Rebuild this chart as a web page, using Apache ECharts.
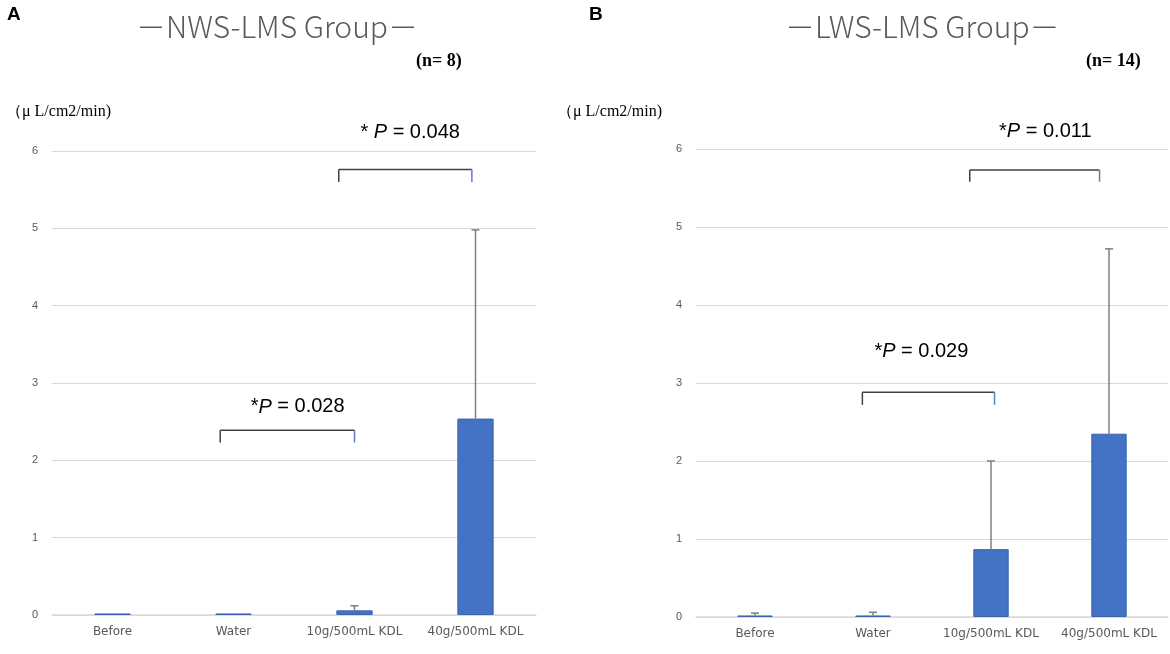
<!DOCTYPE html>
<html>
<head>
<meta charset="utf-8">
<script src="https://cdn.jsdelivr.net/npm/echarts@6/dist/echarts.min.js"></script>
<style>
  html, body { margin: 0; padding: 0; background: #ffffff; }
  #main { width: 1170px; height: 654px; }
</style>
</head>
<body>
<div id="main"></div>
<script>
'use strict';

// 数据
var categories = ['Before', 'Water', '10g/500mL KDL', '40g/500mL KDL'];
var meanA = [0.02, 0.02, 0.06, 2.54];
var sdA = [0, 0, 0.06, 2.44];
var meanB = [0.02, 0.02, 0.87, 2.35];
var sdB = [0.03, 0.04, 1.13, 2.37];
var yTicks = [0, 1, 2, 3, 4, 5, 6];

// 显著性标注: [起点类别, 终点类别, 横线高度, 竖线下端, 文字中心类别, 文字高度, 星号, p值]
var bracketsA = [
  [0.89, 2.0, 2.39, 2.23, 1.53, 2.69, '*', '= 0.028'],
  [1.87, 2.97, 5.76, 5.60, 2.46, 6.24, '* ', '= 0.048']
];
var bracketsB = [
  [0.91, 2.03, 2.88, 2.72, 1.41, 3.40, '*', '= 0.029'],
  [1.82, 2.92, 5.73, 5.58, 2.46, 6.23, '*', '= 0.011']
];

var BAR_COLOR = '#4472c4';
var GRID_COLOR = '#d9d9d9';
var TEXT_COLOR = '#595959';

var chart = echarts.init(document.getElementById('main'), null, { renderer: 'canvas' });

// 类别轴上的小数位置 -> 像素
function catX(api, pos, y) {
  var base = Math.floor(pos);
  var band = api.size([1, 0])[0];
  return api.coord([base, y])[0] + (pos - base) * band;
}

function errorRender(means, sds) {
  return function (params, api) {
    var i = api.value(0);
    var top = means[i] + sds[i];
    if (sds[i] <= 0) return;
    var p0 = api.coord([i, means[i]]);
    var p1 = api.coord([i, top]);
    var style = { stroke: '#7f7f7f', lineWidth: 1.5 };
    return {
      type: 'group',
      children: [
        { type: 'line', shape: { x1: p0[0], y1: p0[1], x2: p1[0], y2: p1[1] }, style: style },
        { type: 'line', shape: { x1: p1[0] - 4, y1: p1[1], x2: p1[0] + 4, y2: p1[1] }, style: style }
      ]
    };
  };
}

function bracketRender(list) {
  return function (params, api) {
    var b = list[params.dataIndex];
    var xl = catX(api, b[0], b[2]);
    var xr = catX(api, b[1], b[2]);
    var yTop = api.coord([0, b[2]])[1];
    var yEnd = api.coord([0, b[3]])[1];
    var xt = catX(api, b[4], b[5]);
    var yt = api.coord([0, b[5]])[1];
    return {
      type: 'group',
      children: [
        { type: 'line', shape: { x1: xl, y1: yTop, x2: xr, y2: yTop }, style: { stroke: '#404040', lineWidth: 1.5 } },
        { type: 'line', shape: { x1: xl, y1: yTop, x2: xl, y2: yEnd }, style: { stroke: '#404040', lineWidth: 1.5 } },
        { type: 'line', shape: { x1: xr, y1: yTop, x2: xr, y2: yEnd }, style: { stroke: '#5b7fc4', lineWidth: 1.5 } },
        {
          type: 'text',
          x: xt, y: yt,
          style: {
            text: '{n|' + b[6] + '}{i|P}{n| ' + b[7] + '}',
            align: 'center',
            verticalAlign: 'middle',
            rich: {
              n: { fontSize: 20, color: '#262626', fontFamily: 'Liberation Sans' },
              i: { fontSize: 20, color: '#262626', fontFamily: 'Liberation Sans', fontStyle: 'italic' }
            }
          }
        }
      ]
    };
  };
}

function xAxisCfg(gridIndex) {
  return {
    type: 'category',
    gridIndex: gridIndex,
    data: categories,
    axisLine: { lineStyle: { color: GRID_COLOR, width: 1.5 } },
    axisTick: { show: false },
    axisLabel: { interval: 0, color: TEXT_COLOR, fontSize: 12, margin: 11, fontFamily: 'DejaVu Sans' }
  };
}

function yAxisCfg(gridIndex) {
  return {
    type: 'value',
    gridIndex: gridIndex,
    min: yTicks[0],
    max: yTicks[yTicks.length - 1],
    interval: 1,
    axisLine: { show: false },
    axisTick: { show: false },
    axisLabel: { color: TEXT_COLOR, fontSize: 11, margin: 14 },
    splitLine: { lineStyle: { color: GRID_COLOR, width: 1 } }
  };
}

function idxData() {
  return categories.map(function (c, i) { return [i]; });
}

var titleFont = { fontSize: 30, fill: TEXT_COLOR, fontFamily: 'Noto Sans CJK JP', fontWeight: 300 };
var serifFont = { fontSize: 18, fill: '#000000', fontFamily: 'Liberation Serif', fontWeight: 'bold' };
var unitFont = { fontSize: 16, fill: '#000000', fontFamily: 'Liberation Serif' };

var option = {
  backgroundColor: '#ffffff',
  animation: false,
  grid: [
    { left: 52, right: 634, top: 151, bottom: 39 },
    { left: 696, right: 2, top: 149, bottom: 37 }
  ],
  xAxis: [xAxisCfg(0), xAxisCfg(1)],
  yAxis: [yAxisCfg(0), yAxisCfg(1)],
  graphic: [
    { type: 'text', left: 7, top: 5, style: { text: 'A', fontSize: 19, fontWeight: 'bold', fill: '#000', fontFamily: 'Liberation Sans' } },
    { type: 'text', left: 589, top: 5, style: { text: 'B', fontSize: 19, fontWeight: 'bold', fill: '#000', fontFamily: 'Liberation Sans' } },
    { type: 'text', left: 136, top: 12, style: Object.assign({ text: '－NWS-LMS Group－' }, titleFont) },
    { type: 'text', left: 785, top: 12, style: Object.assign({ text: '－LWS-LMS Group－' }, titleFont) },
    { type: 'text', left: 416, top: 52, style: Object.assign({ text: '(n= 8)' }, serifFont) },
    { type: 'text', left: 1086, top: 52, style: Object.assign({ text: '(n= 14)' }, serifFont) },
    { type: 'text', left: 6, top: 104, style: Object.assign({ text: '（μ L/cm2/min)' }, unitFont) },
    { type: 'text', left: 557, top: 104, style: Object.assign({ text: '（μ L/cm2/min)' }, unitFont) }
  ],
  series: [
    {
      type: 'bar', xAxisIndex: 0, yAxisIndex: 0, data: meanA, barWidth: '30%',
      itemStyle: { color: BAR_COLOR, borderColor: '#3a64b0', borderWidth: 1 }
    },
    {
      type: 'bar', xAxisIndex: 1, yAxisIndex: 1, data: meanB, barWidth: '30%',
      itemStyle: { color: BAR_COLOR, borderColor: '#3a64b0', borderWidth: 1 }
    },
    { type: 'custom', xAxisIndex: 0, yAxisIndex: 0, data: idxData(), renderItem: errorRender(meanA, sdA), z: 3 },
    { type: 'custom', xAxisIndex: 1, yAxisIndex: 1, data: idxData(), renderItem: errorRender(meanB, sdB), z: 3 },
    { type: 'custom', xAxisIndex: 0, yAxisIndex: 0, data: bracketsA.map(function (b) { return [b[0], b[2]]; }), renderItem: bracketRender(bracketsA), clip: false, z: 4 },
    { type: 'custom', xAxisIndex: 1, yAxisIndex: 1, data: bracketsB.map(function (b) { return [b[0], b[2]]; }), renderItem: bracketRender(bracketsB), clip: false, z: 4 }
  ]
};

chart.setOption(option);
</script>
</body>
</html>
